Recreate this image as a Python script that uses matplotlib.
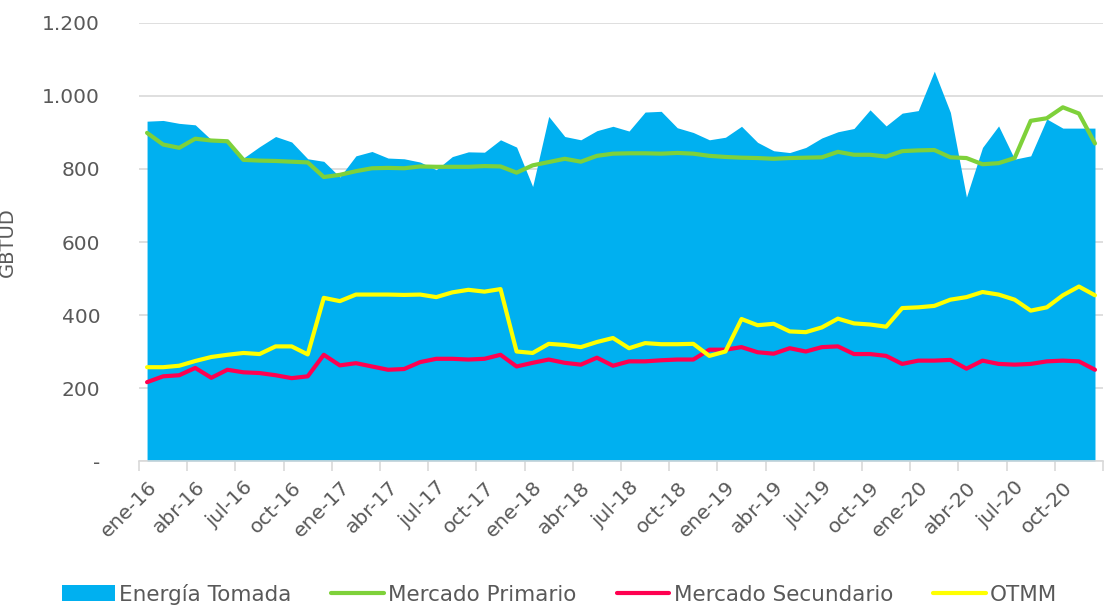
import numpy as np
import matplotlib
matplotlib.use("Agg")
from matplotlib import pyplot as plt
from matplotlib.ticker import FuncFormatter

# meses ene-16 .. dic-20
mesesAbr = ["ene", "feb", "mar", "abr", "may", "jun", "jul", "ago", "sep", "oct", "nov", "dic"]
meses = ["{}-{}".format(m, a) for a in range(16, 21) for m in mesesAbr]

# GBTUD
energiaTomada = [931, 933, 925, 921, 880, 875, 830, 861, 889, 874, 828, 821,
                 778, 836, 848, 830, 828, 819, 798, 834, 847, 846, 880, 860,
                 752, 944, 889, 880, 905, 917, 904, 956, 958, 913, 900, 880,
                 887, 917, 873, 850, 845, 859, 885, 902, 911, 962, 918, 953,
                 960, 1068, 955, 723, 859, 918, 827, 836, 937, 912, 912, 912]
mercadoPrimario = [899, 867, 858, 883, 878, 876, 825, 823, 822, 820, 818, 778,
                   784, 794, 802, 803, 802, 807, 806, 806, 806, 808, 807, 790,
                   810, 819, 828, 820, 836, 842, 843, 843, 842, 844, 842, 836,
                   833, 831, 830, 828, 830, 831, 832, 847, 839, 839, 834, 849,
                   851, 852, 832, 830, 813, 816, 830, 932, 939, 969, 952, 870]
mercadoSecundario = [216, 232, 235, 255, 228, 250, 243, 241, 235, 227, 232, 291,
                     262, 268, 259, 250, 252, 271, 280, 280, 278, 280, 291, 259,
                     269, 278, 269, 264, 283, 261, 273, 273, 276, 278, 278, 305,
                     305, 312, 298, 294, 309, 300, 312, 314, 293, 293, 288, 266,
                     275, 275, 277, 253, 275, 266, 264, 266, 273, 275, 273, 250]
otmm = [257, 257, 261, 274, 285, 291, 296, 293, 314, 314, 292, 447,
        438, 456, 456, 456, 455, 456, 449, 462, 469, 464, 471, 300,
        296, 321, 318, 312, 326, 337, 309, 323, 320, 320, 321, 288,
        300, 389, 372, 376, 355, 353, 366, 390, 377, 374, 368, 419,
        421, 425, 442, 449, 463, 456, 442, 412, 421, 454, 478, 454]

gris = "#595959"
plt.rcParams['font.family'] = ['DejaVu Sans']

fig = plt.figure(figsize=(11.06, 6.05), dpi=100)
ax = fig.add_axes([0.1257, 0.238, 0.8716, 0.724])

x = np.arange(len(meses))
ax.fill_between(x, energiaTomada, 0, color="#00B0F0", linewidth=0, label="Energía Tomada", zorder=2)
ax.plot(x, mercadoPrimario, color="#7ED13A", linewidth=3, label="Mercado Primario", zorder=3,
        solid_joinstyle="round", solid_capstyle="round")
ax.plot(x, mercadoSecundario, color="#FF0050", linewidth=3, label="Mercado Secundario", zorder=3,
        solid_joinstyle="round", solid_capstyle="round")
ax.plot(x, otmm, color="#FFFF00", linewidth=3, label="OTMM", zorder=3,
        solid_joinstyle="round", solid_capstyle="round")

ax.set_xlim(-0.5, len(meses) - 0.5)
ax.set_ylim(0, 1200)
ax.set_yticks(range(0, 1201, 200))
ax.yaxis.set_major_formatter(FuncFormatter(lambda v, p: "-" if v == 0 else "{:,.0f}".format(v).replace(",", ".")))
ax.grid(axis="y", color="#D9D9D9", linewidth=1.2, zorder=0)
ax.set_axisbelow(True)

# marcas entre categorias cada 3 meses, etiquetas centradas en el mes
ax.set_xticks(np.arange(-0.5, len(meses), 3))
ax.set_xticklabels([])
ax.set_xticks(x[::3], minor=True)
ax.set_xticklabels(meses[::3], minor=True, rotation=45, ha="right", rotation_mode="anchor")
ax.tick_params(axis="x", which="major", length=7, color="#D9D9D9", width=1.2)
ax.tick_params(axis="x", which="minor", length=0, pad=12, labelsize=14.5, labelcolor=gris)
ax.tick_params(axis="y", length=0, pad=28, labelsize=14.5, labelcolor=gris)

for s in ["top", "right", "left"]:
    ax.spines[s].set_visible(False)
ax.spines["bottom"].set_color("#D9D9D9")
ax.spines["bottom"].set_linewidth(1.2)

ax.set_ylabel("GBTUD", fontsize=14, color=gris, labelpad=18)

leg = fig.legend(loc="center", bbox_to_anchor=(0.506, 0.018), ncol=4, frameon=False,
                 fontsize=15.5, handlelength=2.45, handleheight=0.75, columnspacing=1.85,
                 handletextpad=0.2, labelcolor=gris)

fig.savefig("out.png", dpi=100)
